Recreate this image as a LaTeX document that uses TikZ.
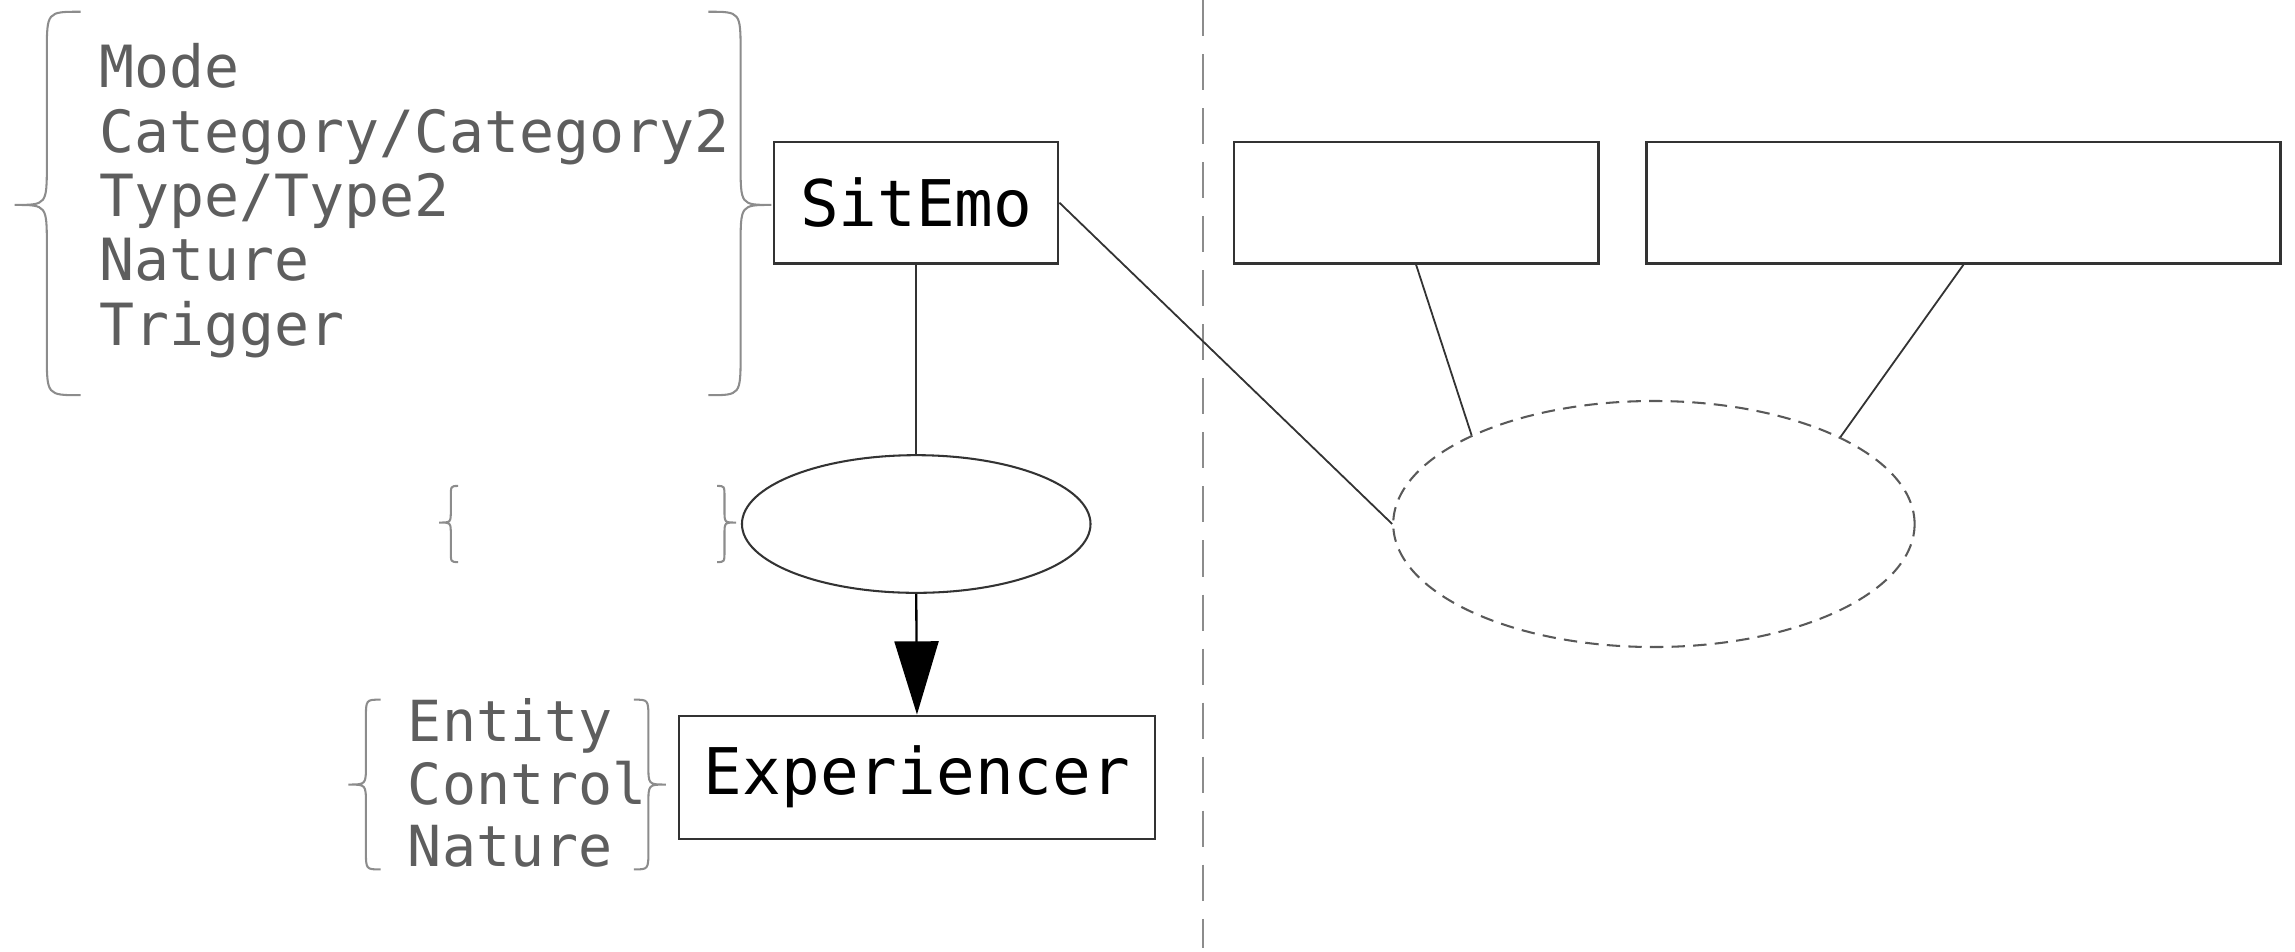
\documentclass[tikz,border=0pt]{standalone}
\usepackage{fontspec}
\newfontfamily\dvm{DejaVu Sans Mono}
\usetikzlibrary{shapes.geometric,arrows.meta}
\definecolor{txtgray}{HTML}{5E5E5E}
\definecolor{bracegray}{HTML}{8C8C8C}
\definecolor{boxline}{HTML}{333333}
\tikzset{
  entbox/.style={draw=boxline, line width=0.45pt, rectangle, inner sep=0pt, font=\dvm\fontsize{12.5}{14}\selectfont, text=black},
  attr/.style={align=left, inner sep=0pt, anchor=west, text=txtgray, font=\dvm\fontsize{11.3}{12.5}\selectfont},
  attrs/.style={align=left, inner sep=0pt, anchor=west, text=txtgray, font=\dvm\fontsize{11}{12.2}\selectfont},
  brc/.style={draw=bracegray, line width=0.4pt},
  conn/.style={draw=boxline, line width=0.35pt},
}
% left/right brace: tip x, line x, end x, top y, mid y, bottom y, radius
\newcommand{\lbrc}[7]{%
  \draw[brc] (#3,#4) .. controls (#2,#4) .. (#2,#4+#7) -- (#2,#5-#7)
    .. controls (#2,#5) .. (#1,#5) .. controls (#2,#5) .. (#2,#5+#7)
    -- (#2,#6-#7) .. controls (#2,#6) .. (#3,#6);}
\begin{document}
\begin{tikzpicture}[x=0.01cm,y=-0.01cm]
\useasboundingbox (0,0) rectangle (1568,650);
% vertical dashed separator
\coordinate (vt) at (822,0);
\coordinate (vb) at (822,648);
\draw[draw=black!45, line width=0.4pt, dash pattern=on 7pt off 3.5pt] (vt) -- (vb);

% braces
\lbrc{10}{32}{55}{8}{140}{270}{28}
\lbrc{527}{506}{484}{8}{140}{270}{28}
\lbrc{300}{308}{313}{332}{357}{384}{8}
\lbrc{503}{495}{490}{332}{357}{384}{8}
\lbrc{238}{250}{260}{478}{536}{594}{13}
\lbrc{455}{443}{433}{478}{536}{594}{13}

% attribute texts
\node[attr] (attrsit) at (67,137) {Mode\\Category/Category2\\Type/Type2\\Nature\\Trigger};
\node[attrs] (attrexp) at (278,535) {Entity\\Control\\Nature};

% entity boxes
\node[entbox, minimum width=1.94cm, minimum height=0.83cm] (sit) at (626,138.5) {SitEmo};
\node[entbox, minimum width=3.25cm, minimum height=0.84cm] (exp) at (626.5,531) {Experiencer};
\node[entbox, minimum width=2.49cm, minimum height=0.83cm] (b3) at (967.5,138.5) {};
\node[entbox, minimum width=4.33cm, minimum height=0.83cm] (b4) at (1341.5,138.5) {};

% ellipses
\node[ellipse, draw=boxline, line width=0.4pt, minimum width=2.38cm, minimum height=0.94cm, inner sep=0pt] (e1) at (626,358) {};
\node[ellipse, draw=black!65, line width=0.4pt, dash pattern=on 2.6pt off 1.6pt, minimum width=3.56cm, minimum height=1.68cm, inner sep=0pt] (e2) at (1130,358) {};

% connectors
\draw[conn] (sit.south) -- (e1.north);
\draw[draw=black, line width=0.45pt, -{Triangle[length=0.5cm,width=0.3cm]}] (e1.south) -- (exp.north);
\draw[conn] (sit.east) -- (e2.west);
\draw[conn] (b3.south) -- (e2.154);
\draw[conn] (b4.south) -- (e2.25);
\end{tikzpicture}
\end{document}
